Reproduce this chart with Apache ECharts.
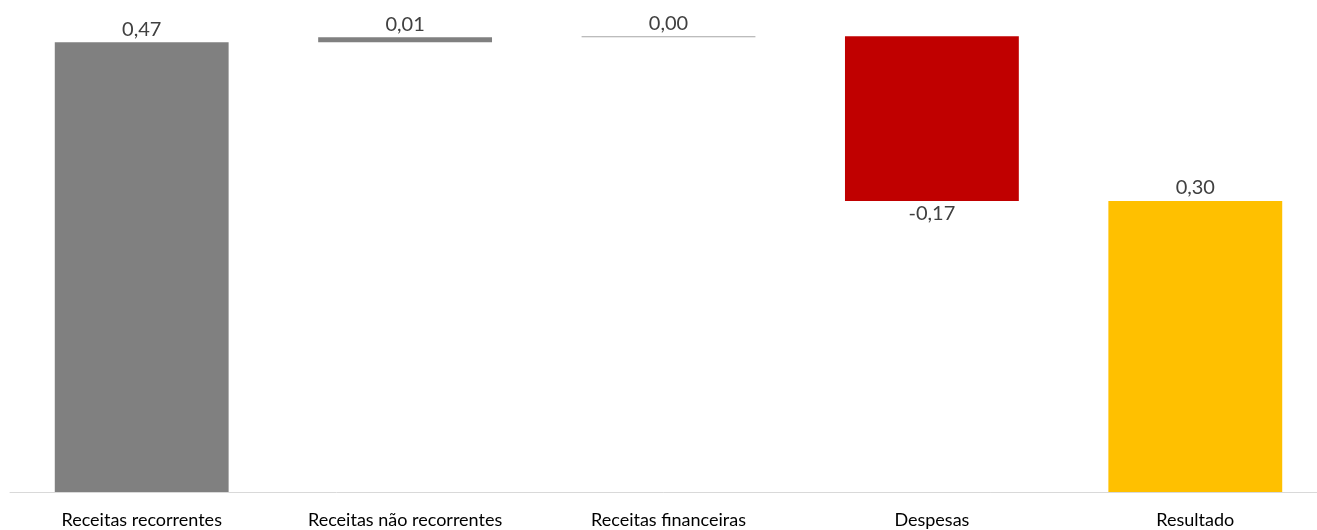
<!DOCTYPE html>
<html>
<head>
<meta charset="utf-8">
<script src="https://cdn.jsdelivr.net/npm/echarts@6/dist/echarts.min.js"></script>
<style>
html,body{margin:0;padding:0;background:#fff;}
#c{width:1317px;height:530px;}
</style>
</head>
<body>
<div id="c"></div>
<script>
var categories = ['Receitas recorrentes', 'Receitas não recorrentes', 'Receitas financeiras', 'Despesas', 'Resultado'];
var values = [0.471, 0.0052, 0.001, -0.1725, 0.3047];
var isTotal = [false, false, false, false, true];
var barColors = ['#808080', '#808080', '#A6A6A6', '#C00000', '#FFC000'];

var bases = [], heights = [];
var run = 0;
for (var i = 0; i < values.length; i++) {
  if (isTotal[i]) {
    bases.push(0); heights.push(values[i]);
  } else if (values[i] >= 0) {
    bases.push(run); heights.push(values[i]); run += values[i];
  } else {
    run += values[i]; bases.push(run); heights.push(-values[i]);
  }
}
function fmt(v) { return v.toFixed(2).replace('.', ','); }

var chart = echarts.init(document.getElementById('c'));
chart.setOption({
  animation: false,
  grid: { left: 10, width: 1317, top: 14.5, bottom: 38, containLabel: false, outerBoundsMode: 'none' },
  xAxis: {
    type: 'category',
    data: categories,
    axisLine: { lineStyle: { color: '#D9D9D9', width: 1 } },
    axisTick: { show: false },
    axisLabel: { color: '#000', fontSize: 18, fontFamily: 'Lato', margin: 19, interval: 0 }
  },
  yAxis: {
    type: 'value', min: 0, max: 0.5, show: false,
    splitLine: { show: false }
  },
  series: [
    {
      type: 'bar', stack: 'w', data: bases,
      itemStyle: { color: 'transparent' }, silent: true, barWidth: '66%'
    },
    {
      type: 'bar', stack: 'w', barWidth: '66%',
      data: heights.map(function (h, i) {
        return {
          value: h,
          itemStyle: { color: barColors[i] },
          label: { position: values[i] < 0 ? 'bottom' : 'top' }
        };
      }),
      label: {
        show: true, color: '#404040', fontSize: 20, fontFamily: 'Lato', distance: 3,
        formatter: function (p) { return fmt(values[p.dataIndex]); }
      }
    }
  ]
});
</script>
</body>
</html>
